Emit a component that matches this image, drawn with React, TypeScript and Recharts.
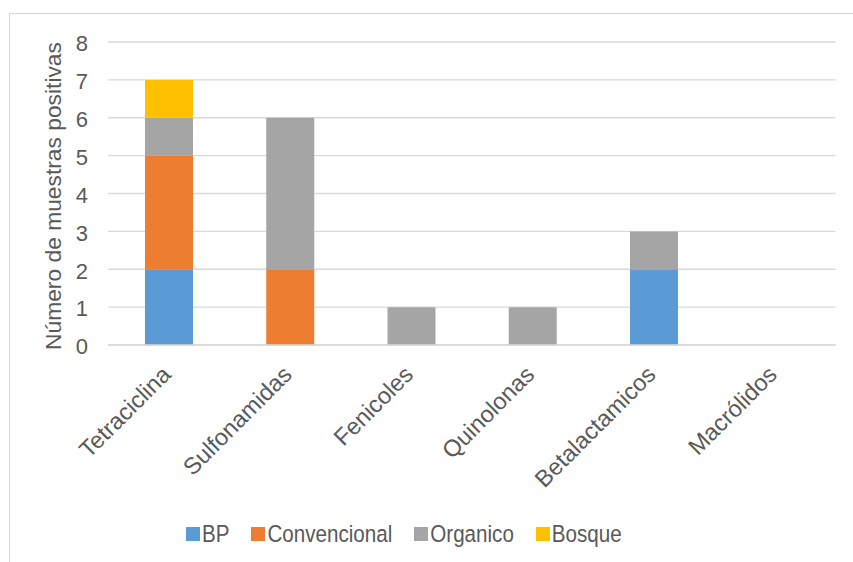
import React from "react";
import { Bar, BarChart, CartesianGrid, Legend, XAxis, YAxis } from "recharts";

const categories = ["Tetraciclina", "Sulfonamidas", "Fenicoles", "Quinolonas", "Betalactamicos", "Macrólidos"];
const bp = [2, 0, 0, 0, 2, 0];
const convencional = [3, 2, 0, 0, 0, 0];
const organico = [1, 4, 1, 1, 1, 0];
const bosque = [1, 0, 0, 0, 0, 0];
const yTicks = [0, 1, 2, 3, 4, 5, 6, 7, 8];

const series = [
  { key: "BP", values: bp, color: "#5B9BD5" },
  { key: "Convencional", values: convencional, color: "#ED7D31" },
  { key: "Organico", values: organico, color: "#A5A5A5" },
  { key: "Bosque", values: bosque, color: "#FFC000" },
];

const data = categories.map((name, i) => {
  const row: Record<string, string | number> = { name };
  series.forEach((s) => (row[s.key] = s.values[i]));
  return row;
});

const FONT = "'Liberation Sans', Arial, sans-serif";
const TEXT = "#595959";
const GRID = "#D9D9D9";

// rotated category names, anchored at the end of the text
function CategoryTick({ x, y, payload }: any) {
  return (
    <g transform={`translate(${x + 3.5},${y + 31})`}>
      <text textAnchor="end" transform="rotate(-45)" fill={TEXT} fontSize={23.5} fontFamily={FONT}>
        {payload.value}
      </text>
    </g>
  );
}

function LegendRow() {
  return (
    <div style={{ display: "flex", alignItems: "center", fontFamily: FONT, fontSize: 20.6, color: TEXT }}>
      {series.map((s) => (
        <div key={s.key} style={{ display: "flex", alignItems: "center", marginRight: 22 }}>
          <span style={{ width: 14, height: 14, background: s.color, display: "inline-block", marginRight: 2 }} />
          <span style={{ display: "inline-block", transform: "scale(1, 1.15)" }}>{s.key}</span>
        </div>
      ))}
    </div>
  );
}

export default function App() {
  return (
    <div style={{ position: "fixed", left: 0, top: 0, width: 853, height: 562, overflow: "hidden", background: "#fff" }}>
      <div
        style={{
          position: "absolute", left: 9, top: 13, width: 900, height: 600,
          border: `1px solid ${GRID}`, boxSizing: "border-box",
        }}
      />
      <div style={{ position: "absolute", left: 0, top: 0 }}>
        <BarChart width={853} height={562} data={data} margin={{ top: 42, right: 17.5, left: 0, bottom: 0 }}>
          <CartesianGrid vertical={false} stroke={GRID} strokeWidth={1.3} />
          <XAxis
            dataKey="name"
            height={217}
            tickLine={false}
            tickSize={0}
            tickMargin={0}
            axisLine={{ stroke: GRID, strokeWidth: 1.3 }}
            interval={0}
            tick={<CategoryTick />}
          />
          <YAxis
            width={108}
            domain={[0, 8]}
            ticks={yTicks}
            tickLine={false}
            axisLine={false}
            tickSize={0}
            tickMargin={20}
            tick={{ fill: TEXT, fontSize: 22, fontFamily: FONT, dy: 1.5 }}
            label={{
              content: () => (
                <text
                  transform="translate(61,196) rotate(-90)"
                  textAnchor="middle"
                  fill={TEXT}
                  fontSize={22.8}
                  fontFamily={FONT}
                >
                  Número de muestras positivas
                </text>
              ),
            }}
          />
          <Legend
            verticalAlign="middle"
            align="center"
            layout="horizontal"
            content={<LegendRow />}
            wrapperStyle={{ left: 186, top: 522, width: "auto" }}
          />
          {series.map((s) => (
            <Bar key={s.key} dataKey={s.key} stackId="a" fill={s.color} barSize={48} isAnimationActive={false} />
          ))}
        </BarChart>
      </div>
    </div>
  );
}
